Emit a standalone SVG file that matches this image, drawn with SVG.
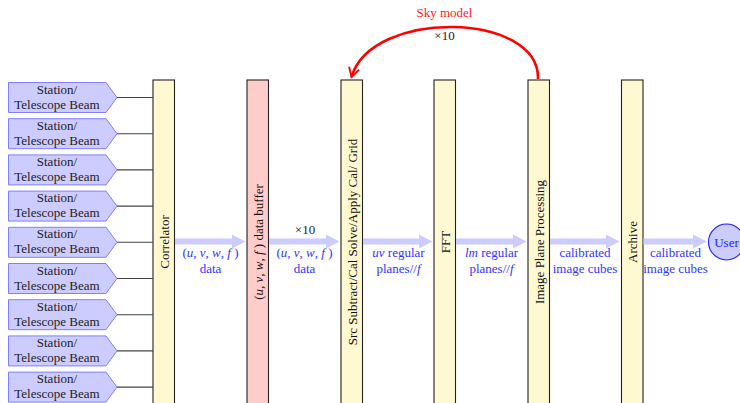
<svg xmlns="http://www.w3.org/2000/svg" width="740" height="403" viewBox="0 0 740 403">
  <style>
    .stn { fill: #ccccff; stroke: #8080ff; stroke-width: 1; }
    .stxt { font-family: "Liberation Serif", "DejaVu Serif", serif; font-size: 13px; fill: #222; text-anchor: middle; }
    .bar { fill: #fff9d2; stroke: #222; stroke-width: 1.1; }
    .buf { fill: #ffcccc; stroke: #222; stroke-width: 1.1; }
    .btxt { font-family: "Liberation Serif", "DejaVu Serif", serif; font-size: 13px; fill: #111; text-anchor: middle; }
    .lbl { font-family: "Liberation Serif", "DejaVu Serif", serif; font-size: 13px; fill: #3434ff; text-anchor: middle; }
    .blk { font-family: "Liberation Serif", "DejaVu Serif", serif; font-size: 13px; fill: #222; text-anchor: middle; }
    .feed { stroke: #444; stroke-width: 1.1; fill: none; }
    .flow { fill: #ccccff; }
    .it { font-style: italic; }
  </style>
  <defs>
    <marker id="redhead" viewBox="0 0 10 10" refX="8" refY="5" markerWidth="5" markerHeight="5" orient="auto" markerUnits="strokeWidth">
      <path d="M1,1 L8,5 L1,9" fill="none" stroke="#ff0000" stroke-width="1.4"/>
    </marker>
  </defs>

  <!-- station / telescope beam inputs -->
  <g id="stations">
    <g id="station1"><path class="stn" d="M8.5,82.5 H106 L117,97.5 L106,112.5 H8.5 Z"/><text class="stxt" x="57" y="93.5">Station/</text><text class="stxt" x="57" y="108.5">Telescope Beam</text></g>
    <g id="station2"><path class="stn" d="M8.5,118.7 H106 L117,133.7 L106,148.7 H8.5 Z"/><text class="stxt" x="57" y="129.7">Station/</text><text class="stxt" x="57" y="144.7">Telescope Beam</text></g>
    <g id="station3"><path class="stn" d="M8.5,154.9 H106 L117,169.9 L106,184.9 H8.5 Z"/><text class="stxt" x="57" y="165.9">Station/</text><text class="stxt" x="57" y="180.9">Telescope Beam</text></g>
    <g id="station4"><path class="stn" d="M8.5,191.1 H106 L117,206.1 L106,221.1 H8.5 Z"/><text class="stxt" x="57" y="202.1">Station/</text><text class="stxt" x="57" y="217.1">Telescope Beam</text></g>
    <g id="station5"><path class="stn" d="M8.5,227.3 H106 L117,242.3 L106,257.3 H8.5 Z"/><text class="stxt" x="57" y="238.3">Station/</text><text class="stxt" x="57" y="253.3">Telescope Beam</text></g>
    <g id="station6"><path class="stn" d="M8.5,263.5 H106 L117,278.5 L106,293.5 H8.5 Z"/><text class="stxt" x="57" y="274.5">Station/</text><text class="stxt" x="57" y="289.5">Telescope Beam</text></g>
    <g id="station7"><path class="stn" d="M8.5,299.7 H106 L117,314.7 L106,329.7 H8.5 Z"/><text class="stxt" x="57" y="310.7">Station/</text><text class="stxt" x="57" y="325.7">Telescope Beam</text></g>
    <g id="station8"><path class="stn" d="M8.5,335.9 H106 L117,350.9 L106,365.9 H8.5 Z"/><text class="stxt" x="57" y="346.9">Station/</text><text class="stxt" x="57" y="361.9">Telescope Beam</text></g>
    <g id="station9"><path class="stn" d="M8.5,372.1 H106 L117,387.1 L106,402.1 H8.5 Z"/><text class="stxt" x="57" y="383.1">Station/</text><text class="stxt" x="57" y="398.1">Telescope Beam</text></g>
  </g>

  <!-- processing stages (tall bars) -->
  <g id="correlator"><rect class="bar" x="153" y="80" width="21.5" height="330"/><text class="btxt" transform="translate(168.5,242) rotate(-90)">Correlator</text></g>
  <g id="buffer"><rect class="buf" x="247" y="80" width="21.5" height="330"/><text class="btxt" transform="translate(262.5,242) rotate(-90)">(<tspan class="it">u</tspan>, <tspan class="it">v</tspan>, <tspan class="it">w</tspan>, <tspan class="it">f</tspan> ) data buffer</text></g>
  <g id="calibrate"><rect class="bar" x="341" y="80" width="21.5" height="330"/><text class="btxt" transform="translate(356.5,242) rotate(-90)">Src Subtract/Cal Solve/Apply Cal/ Grid</text></g>
  <g id="fft"><rect class="bar" x="434" y="80" width="21.5" height="330"/><text class="btxt" transform="translate(449.5,242) rotate(-90)">FFT</text></g>
  <g id="imaging"><rect class="bar" x="528" y="80" width="21.5" height="330"/><text class="btxt" transform="translate(543.5,242) rotate(-90)">Image Plane Processing</text></g>
  <g id="archive"><rect class="bar" x="621.5" y="80" width="21.5" height="330"/><text class="btxt" transform="translate(637,242) rotate(-90)">Archive</text></g>
  <g id="user"><circle cx="726.5" cy="242" r="18" fill="#ccccff" stroke="#2020ff" stroke-width="1.1"/><text class="lbl" x="726.5" y="246.5" style="fill:#2020ff">User</text></g>

  <!-- connectors -->
  <g id="connectors">
    <path class="feed" d="M117,97.5 H153 M117,133.7 H153 M117,169.9 H153 M117,206.1 H153 M117,242.3 H153 M117,278.5 H153 M117,314.7 H153 M117,350.9 H153 M117,387.1 H153"/>

    <path class="flow" d="M175,238.5 H232 V234.5 L245.5,241.5 L232,248.5 V244.5 H175 Z"/>
    <path class="flow" d="M269,238.5 H326 V234.5 L339.5,241.5 L326,248.5 V244.5 H269 Z"/>
    <path class="flow" d="M363,238.5 H419 V234.5 L432.5,241.5 L419,248.5 V244.5 H363 Z"/>
    <path class="flow" d="M456,238.5 H513 V234.5 L526.5,241.5 L513,248.5 V244.5 H456 Z"/>
    <path class="flow" d="M550,238.5 H606 V234.5 L619.5,241.5 L606,248.5 V244.5 H550 Z"/>
    <path class="flow" d="M643.5,238.5 H693 V234.5 L707,241.5 L693,248.5 V244.5 H643.5 Z"/>

    <path d="M538,79 C540,12 372,8 351.5,77" fill="none" stroke="#ff0000" stroke-width="2.6" marker-end="url(#redhead)"/>
    <text class="lbl" x="444.5" y="17" style="fill:#ff2020">Sky model</text>
    <text class="blk" x="444.5" y="40">×10</text>

    <text class="blk" x="305" y="234">×10</text>

    <text class="lbl" x="210.5" y="257">(<tspan class="it">u</tspan>, <tspan class="it">v</tspan>, <tspan class="it">w</tspan>, <tspan class="it">f</tspan> )</text>
    <text class="lbl" x="210.5" y="273">data</text>
    <text class="lbl" x="304.5" y="257">(<tspan class="it">u</tspan>, <tspan class="it">v</tspan>, <tspan class="it">w</tspan>, <tspan class="it">f</tspan> )</text>
    <text class="lbl" x="304.5" y="273">data</text>
    <text class="lbl" x="398.5" y="257"><tspan class="it">uv</tspan> regular</text>
    <text class="lbl" x="398.5" y="273">planes//<tspan class="it">f</tspan></text>
    <text class="lbl" x="491.5" y="257"><tspan class="it">lm</tspan> regular</text>
    <text class="lbl" x="491.5" y="273">planes//<tspan class="it">f</tspan></text>
    <text class="lbl" x="585" y="257">calibrated</text>
    <text class="lbl" x="585" y="273">image cubes</text>
    <text class="lbl" x="675.5" y="257">calibrated</text>
    <text class="lbl" x="675.5" y="273">image cubes</text>
  </g>
</svg>
